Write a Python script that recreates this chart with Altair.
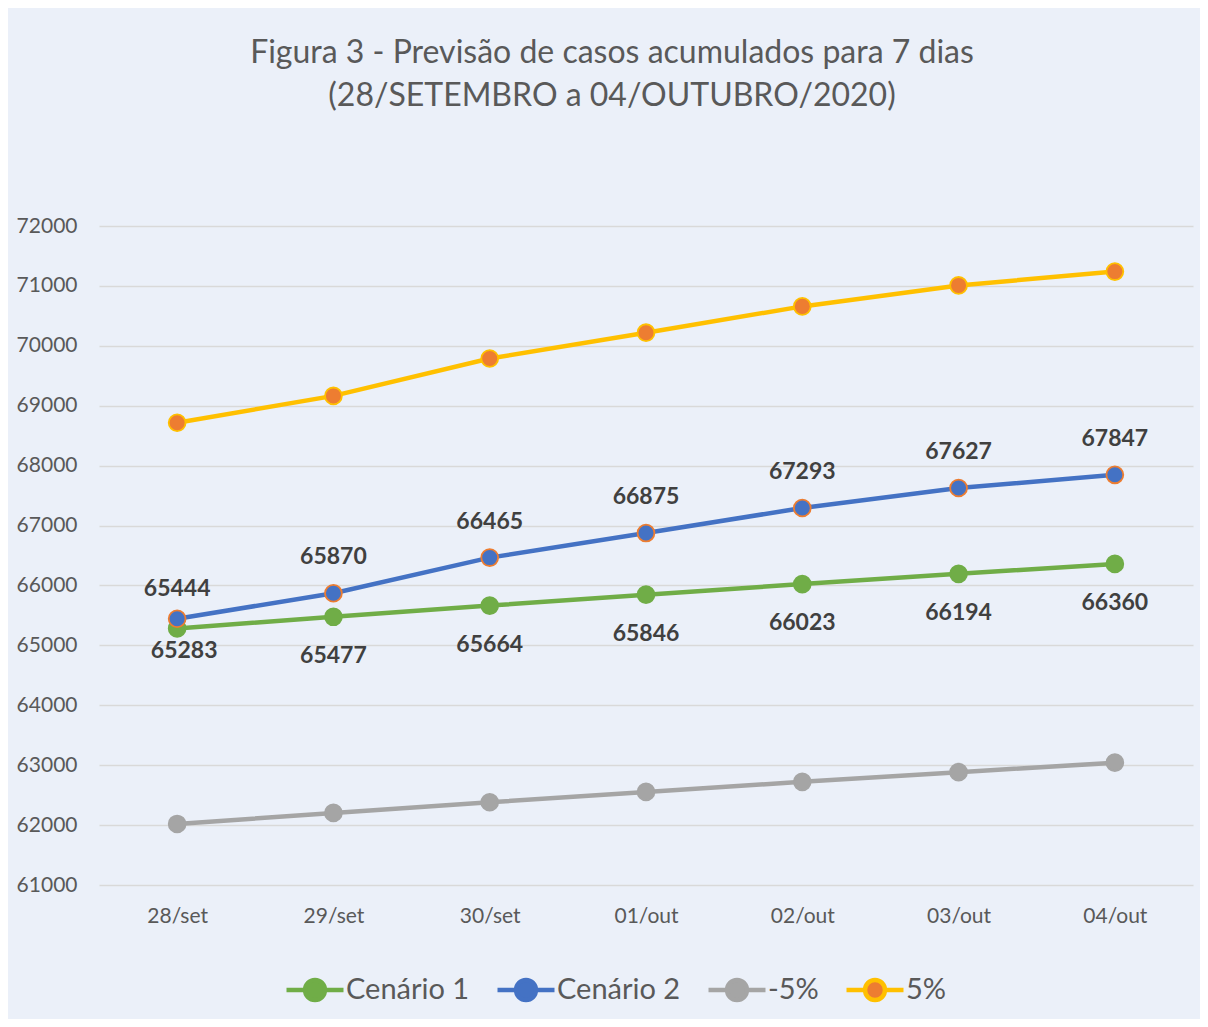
import altair as alt
import pandas as pd

dates = ["28/set", "29/set", "30/set", "01/out", "02/out", "03/out", "04/out"]
cenario1 = [65283, 65477, 65664, 65846, 66023, 66194, 66360]
cenario2 = [65444, 65870, 66465, 66875, 67293, 67627, 67847]
menos5 = [62019, 62203, 62381, 62554, 62722, 62884, 63042]
mais5 = [68716, 69164, 69788, 70219, 70658, 71008, 71239]
series_names = ["Cenário 1", "Cenário 2", "-5%", "5%"]
line_colors = ["#70AD47", "#4472C4", "#A5A5A5", "#FFC000"]
fill_colors = ["#70AD47", "#4472C4", "#A5A5A5", "#ED7D31"]
ring_colors = ["#70AD47", "#ED7D31", "#A5A5A5", "#FFC000"]
y_ticks = list(range(61000, 72001, 1000))
title_lines = ["Figura 3 - Previsão de casos acumulados para 7 dias",
               "(28/SETEMBRO a  04/OUTUBRO/2020)"]

rows = []
for name, vals in zip(series_names, [cenario1, cenario2, menos5, mais5]):
    for d, v in zip(dates, vals):
        rows.append({"data": d, "serie": name, "casos": v})
df = pd.DataFrame(rows)

FONT = "Lato"
TXT = "#595959"

x = alt.X("data:N", sort=dates,
          scale=alt.Scale(type="point", padding=0.5),
          axis=alt.Axis(title=None, labelAngle=0, domain=False, ticks=False, grid=False,
                        labelFont=FONT, labelFontSize=21, labelColor=TXT, labelPadding=20))
y = alt.Y("casos:Q",
          scale=alt.Scale(domain=[61000, 72000], nice=False, zero=False),
          axis=alt.Axis(title=None, values=y_ticks, format="d", domain=False, ticks=False,
                        grid=True, gridColor="#D9D9D9", gridWidth=1.5,
                        labelFont=FONT, labelFontSize=21, labelColor=TXT, labelPadding=22))

sym = ("M-1,0L-0.35,0M0.35,0L1,0"
       "M-0.35,0A0.35,0.35,0,1,1,0.35,0A0.35,0.35,0,1,1,-0.35,0Z")
legend_def = alt.Legend(title=None, orient="none", legendX=185, legendY=733,
                        direction="horizontal", symbolType=sym, symbolSize=3249,
                        symbolStrokeWidth=4.5, labelFont=FONT, labelFontSize=29,
                        labelColor=TXT, labelOffset=0, columnPadding=18)

base = alt.Chart(df)

lines = base.mark_line(strokeWidth=4.5, strokeCap="round").encode(
    x=x, y=y,
    color=alt.Color("serie:N", scale=alt.Scale(domain=series_names, range=line_colors),
                    legend=legend_def),
)

points = base.mark_point(filled=True, size=284, strokeWidth=1.8, opacity=1).encode(
    x=x, y=y,
    fill=alt.Fill("serie:N", scale=alt.Scale(domain=series_names, range=fill_colors),
                  legend=legend_def),
    stroke=alt.Stroke("serie:N", scale=alt.Scale(domain=series_names, range=ring_colors),
                      legend=None),
)

lab_style = dict(font=FONT, fontSize=23, fontWeight="bold", color="#404040", baseline="middle")

c2_lab = base.transform_filter(
    "datum.serie == 'Cenário 2' && datum.data != '28/set'"
).mark_text(dy=-36, **lab_style).encode(x=x, y=y, text=alt.Text("casos:Q", format="d"))
c2_first = base.transform_filter(
    "datum.serie == 'Cenário 2' && datum.data == '28/set'"
).mark_text(dy=-30, **lab_style).encode(x=x, y=y, text=alt.Text("casos:Q", format="d"))
c1_lab = base.transform_filter(
    "datum.serie == 'Cenário 1' && datum.data != '28/set'"
).mark_text(dy=39, **lab_style).encode(x=x, y=y, text=alt.Text("casos:Q", format="d"))
c1_first = base.transform_filter(
    "datum.serie == 'Cenário 1' && datum.data == '28/set'"
).mark_text(dy=23, dx=7, **lab_style).encode(x=x, y=y, text=alt.Text("casos:Q", format="d"))

chart = alt.layer(lines, points, c2_lab, c2_first, c1_lab, c1_first).properties(
    width=1094, height=659,
    padding={"left": 91, "top": 218, "right": 7, "bottom": 134},
    autosize=alt.AutoSizeParams(type="none"),
    background="#EBF0F9",
    title=alt.TitleParams(text=title_lines, font=FONT, fontSize=32, fontWeight="normal",
                          color=TXT, anchor="middle", offset=102, lineHeight=43, dx=-34),
).configure_view(stroke=None)

chart.save("out.html", embed_options={"renderer": "svg", "actions": False})
